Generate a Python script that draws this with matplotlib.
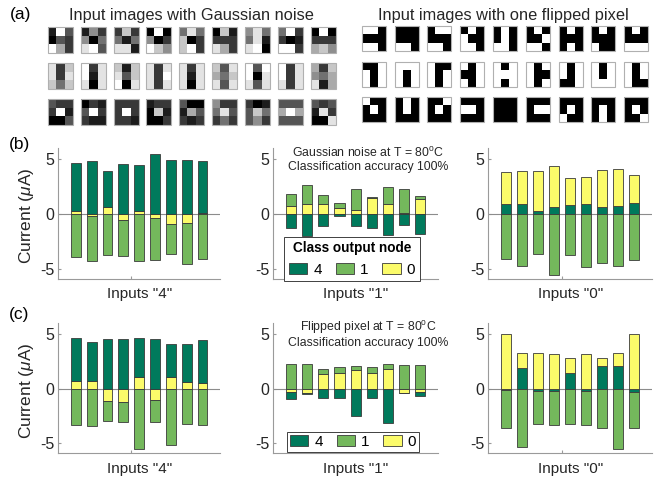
import numpy as np
import matplotlib
matplotlib.use("Agg")
import matplotlib.pyplot as plt
from matplotlib.patches import Patch, Rectangle

plt.rcParams['font.family'] = ['Liberation Sans', 'DejaVu Sans']
plt.rcParams['axes.unicode_minus'] = False
plt.rcParams['mathtext.fontset'] = 'custom'
plt.rcParams['mathtext.rm'] = 'Liberation Sans'
plt.rcParams['mathtext.it'] = 'Liberation Sans:italic'

# ---------------- panel (a): 3x3 input images ----------------
# grey levels 0 (black) .. 9 (white), row-major
noisy_4 = [
    [1, 9, 3, 0, 3, 2, 9, 6, 2],
    [1, 5, 2, 5, 0, 4, 8, 9, 3],
    [2, 7, 2, 4, 1, 4, 8, 8, 1],
    [0, 9, 0, 5, 0, 2, 9, 7, 5],
    [4, 8, 4, 7, 0, 2, 7, 9, 2],
    [0, 7, 1, 2, 2, 2, 8, 6, 2],
    [5, 8, 4, 4, 8, 1, 8, 9, 0],
    [4, 9, 2, 2, 0, 1, 9, 9, 2],
    [0, 9, 0, 2, 2, 2, 6, 7, 5],
]
noisy_1 = [
    [8, 2, 7, 8, 2, 8, 7, 4, 7],
    [9, 2, 8, 9, 1, 8, 8, 0, 8],
    [7, 1, 7, 8, 3, 7, 9, 0, 8],
    [8, 2, 8, 8, 2, 9, 8, 2, 8],
    [8, 2, 8, 8, 1, 8, 8, 0, 8],
    [7, 3, 8, 6, 4, 7, 8, 3, 8],
    [9, 3, 9, 9, 0, 8, 8, 3, 8],
    [9, 2, 8, 9, 2, 8, 8, 2, 8],
    [6, 2, 7, 5, 4, 6, 8, 1, 6],
]
noisy_0 = [
    [3, 2, 2, 2, 9, 1, 0, 0, 3],
    [0, 2, 1, 3, 9, 2, 2, 1, 1],
    [2, 2, 2, 2, 9, 2, 2, 2, 1],
    [1, 2, 2, 0, 7, 1, 0, 0, 2],
    [3, 0, 0, 1, 6, 3, 2, 1, 2],
    [5, 2, 2, 4, 8, 3, 2, 4, 2],
    [2, 0, 1, 3, 7, 4, 3, 5, 2],
    [3, 3, 3, 6, 9, 6, 3, 3, 3],
    [3, 2, 3, 1, 8, 2, 0, 0, 8],
]
# clean patterns (1 = black pixel) and the pixel flipped in each image
pattern_4 = [1, 0, 1, 1, 1, 1, 0, 0, 1]
pattern_1 = [0, 1, 0, 0, 1, 0, 0, 1, 0]
pattern_0 = [1, 1, 1, 1, 0, 1, 1, 1, 1]
flipped_pixel = [0, 1, 2, 3, 4, 5, 6, 7, 8]

# ---------------- panels (b), (c): output-node currents (uA) ----------------
g4_node4 = [4.42, 4.85, 3.30, 4.55, 4.18, 5.45, 4.92, 4.90, 4.82]
g4_node1 = [-3.93, -4.06, -3.80, -3.28, -4.30, -3.84, -2.80, -3.80, -4.10]
g4_node0 = [0.25, -0.24, 0.58, -0.60, 0.30, -0.36, -0.90, -0.80, 0.03]

g1_node4 = [-1.27, -2.06, -1.15, -0.24, -1.12, -1.30, -1.97, -1.03, -1.82]
g1_node1 = [1.07, 1.74, 0.82, 0.42, 1.91, 0.08, 1.63, 2.22, 0.22]
g1_node0 = [0.75, 0.90, 0.85, 0.55, 0.36, 1.42, 0.85, 0.05, 1.36]

g0_node4 = [0.85, 0.90, 0.21, 0.58, 0.79, 0.85, 0.64, 0.70, 0.97]
g0_node1 = [-4.15, -4.79, -3.70, -5.55, -3.76, -4.85, -4.48, -4.73, -4.24]
g0_node0 = [3.00, 3.04, 3.73, 3.81, 2.45, 2.54, 3.39, 3.39, 2.61]

f4_node4 = [3.93, 3.57, 4.52, 4.52, 3.58, 4.52, 3.03, 3.45, 3.87]
f4_node1 = [-3.33, -3.39, -1.82, -1.85, -5.48, -2.00, -5.15, -3.24, -3.33]
f4_node0 = [0.67, 0.67, -1.12, -1.21, 1.06, -1.06, 1.06, 0.64, 0.52]

f1_node4 = [-0.55, -0.07, -0.82, -0.82, -2.52, -0.85, -3.12, -0.04, -0.40]
f1_node1 = [2.21, 2.27, 0.52, 0.52, 0.30, 0.52, 0.51, 2.12, 2.18]
f1_node0 = [-0.36, -0.45, 1.30, 1.45, 1.73, 1.45, 1.76, -0.39, -0.30]

f0_node4 = [-0.15, 1.91, -0.24, -0.24, 1.45, -0.24, 2.03, 2.03, -0.36]
f0_node1 = [-3.40, -5.36, -2.97, -3.06, -3.27, -3.09, -3.64, -5.48, -3.19]
f0_node0 = [5.00, 1.33, 3.24, 3.18, 1.37, 3.18, 0.79, 1.24, 4.94]

classes = ['4', '1', '0']
input_labels = ['Inputs "4"', 'Inputs "1"', 'Inputs "0"']

COL = {'4': '#007a5c', '1': '#74b85c', '0': '#fbfb6a'}
EDGE = '#3a3a3a'
AXC = '#9a9a9a'
TXT = '#262626'

W, H = 665, 479
fig = plt.figure(figsize=(W / 100, H / 100), dpi=100)


def rect(l, t, r, b):
    return [l / W, 1 - b / H, (r - l) / W, (b - t) / H]


# ---- images ----
ax_img = fig.add_axes([0, 0, 1, 1])
ax_img.set_xlim(0, W)
ax_img.set_ylim(H, 0)
ax_img.axis('off')


def draw_image(grid, x0, y0, w, h, vmax):
    arr = np.asarray(grid, dtype=float).reshape(3, 3)
    ax_img.imshow(arr, cmap='gray', vmin=0, vmax=vmax, interpolation='nearest',
                  extent=(x0, x0 + w, y0 + h, y0), aspect='auto', zorder=2)
    ax_img.add_patch(Rectangle((x0, y0), w, h, fill=False, edgecolor='#b0b0b0',
                               linewidth=0.8, zorder=3))


for r, imgs in enumerate([noisy_4, noisy_1, noisy_0]):
    for i, g in enumerate(imgs):
        draw_image(g, 47.7 + 32.9 * i, [26.7, 62.7, 98.5][r], 25, 26, 9)

for r, pat in enumerate([pattern_4, pattern_1, pattern_0]):
    for i, k in enumerate(flipped_pixel):
        px = list(pat)
        px[k] = 1 - px[k]
        draw_image([1 - v for v in px], 361.7 + 32.8 * i, [26, 61.7, 96.7][r], 24, 25, 1)

ax_img.text(191, 15, 'Input images with Gaussian noise', ha='center', va='center',
            fontsize=11.8, color=TXT)
ax_img.text(503, 15, 'Input images with one flipped pixel', ha='center', va='center',
            fontsize=11.8, color=TXT)
ax_img.set_xlim(0, W)
ax_img.set_ylim(H, 0)

fig.text(10 / W, 1 - 15 / H, '(a)', fontsize=12.5, va='center', ha='left', color='k')
fig.text(9 / W, 1 - 145 / H, '(b)', fontsize=12.5, va='center', ha='left', color='k')
fig.text(9 / W, 1 - 315 / H, '(c)', fontsize=12.5, va='center', ha='left', color='k')


def stacked(ax, series, order):
    x = np.arange(1, 10)
    pos = np.zeros(9)
    neg = np.zeros(9)
    for key in order:
        v = np.asarray(series[key], dtype=float)
        base = np.where(v >= 0, pos, neg)
        ax.bar(x, v, bottom=base, width=0.62, color=COL[key], edgecolor=EDGE,
               linewidth=0.6, zorder=3)
        pos += np.where(v >= 0, v, 0)
        neg += np.where(v < 0, v, 0)


def style(ax, label):
    ax.set_xlim(-0.1, 10.1)
    ax.set_ylim(-5.9, 6.0)
    ax.axhline(0, color='#8c8c8c', linewidth=0.8, zorder=2)
    for s in ['top', 'right']:
        ax.spines[s].set_visible(False)
    for s in ['left', 'bottom']:
        ax.spines[s].set_color(AXC)
        ax.spines[s].set_linewidth(0.8)
    ax.set_yticks([-5, 0, 5])
    ax.set_yticklabels(['-5', '0', '5'])
    ax.set_xticks([4.5])
    ax.set_xticklabels([])
    ax.tick_params(direction='in', length=2.5, color=AXC, labelsize=11.5,
                   labelcolor=TXT, pad=3)
    ax.set_xlabel(label, fontsize=11, color=TXT)
    ax.xaxis.set_label_coords(0.5, -0.065)
    ax.xaxis.label.set_va('top')


rows = [
    (148, 278.5, [
        ({'4': g4_node4, '1': g4_node1, '0': g4_node0}, ['0', '1', '4']),
        ({'4': g1_node4, '1': g1_node1, '0': g1_node0}, ['0', '4', '1']),
        ({'4': g0_node4, '1': g0_node1, '0': g0_node0}, ['4', '1', '0']),
    ]),
    (322.7, 453.3, [
        ({'4': f4_node4, '1': f4_node1, '0': f4_node0}, ['0', '1', '4']),
        ({'4': f1_node4, '1': f1_node1, '0': f1_node0}, ['0', '4', '1']),
        ({'4': f0_node4, '1': f0_node1, '0': f0_node0}, ['4', '1', '0']),
    ]),
]
cols = [(58.3, 220), (273.3, 438), (488.3, 652)]

axes = []
for top, bot, panels in rows:
    row_axes = []
    for (l, r), (series, order), lab in zip(cols, panels, input_labels):
        ax = fig.add_axes(rect(l, top, r, bot))
        stacked(ax, series, order)
        style(ax, lab)
        row_axes.append(ax)
    axes.append(row_axes)

for row_axes in axes:
    ax = row_axes[0]
    ax.set_ylabel(r'Current ($\mu$A)', fontsize=12.5, color=TXT)
    ax.yaxis.set_label_coords(-0.135, 0.48)

handles = [Patch(facecolor=COL[c], edgecolor=EDGE, linewidth=0.6, label=c) for c in classes]
leg_kw = dict(ncol=3, loc='center', bbox_transform=fig.transFigure, fontsize=11,
              fancybox=False, edgecolor='#404040', framealpha=1,
              handlelength=1.2, handleheight=0.7, handletextpad=0.4,
              columnspacing=0.9)

leg_b = axes[0][1].legend(handles=handles, title='Class output node',
                          bbox_to_anchor=(352 / W, 1 - 259 / H),
                          title_fontproperties={'weight': 'bold', 'size': 9.8},
                          borderpad=0.3, **leg_kw)
leg_b.get_frame().set_linewidth(0.7)
leg_b.set_zorder(5)

leg_c = axes[1][1].legend(handles=handles, bbox_to_anchor=(353 / W, 1 - 442 / H),
                          borderpad=0.2, **leg_kw)
leg_c.get_frame().set_linewidth(0.7)
leg_c.set_zorder(5)

fig.text(368 / W, 1 - 152.7 / H, r'Gaussian noise at T = 80$^{\rm o}$C',
         ha='center', va='center', fontsize=8.8, color=TXT)
fig.text(368 / W, 1 - 166.7 / H, 'Classification accuracy 100%',
         ha='center', va='center', fontsize=8.8, color=TXT)
fig.text(368 / W, 1 - 327 / H, r'Flipped pixel at T = 80$^{\rm o}$C',
         ha='center', va='center', fontsize=8.8, color=TXT)
fig.text(368 / W, 1 - 342.7 / H, 'Classification accuracy 100%',
         ha='center', va='center', fontsize=8.8, color=TXT)

fig.savefig('out.png', dpi=100)
